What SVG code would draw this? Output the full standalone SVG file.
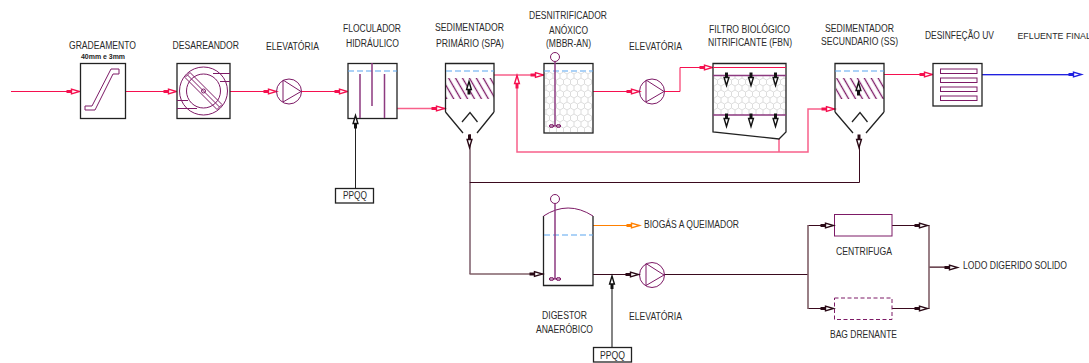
<svg xmlns="http://www.w3.org/2000/svg" width="1089" height="363" viewBox="0 0 1089 363">
<style>
text{font-family:"Liberation Sans",Arial,sans-serif;font-size:10px;fill:#2a2a2a}
.box{fill:#fff;stroke:#222;stroke-width:1.3}
.open{fill:none;stroke:#222;stroke-width:1.3}
.sym{fill:none;stroke:#7d1a66;stroke-width:1}
.sym2{fill:none;stroke:#8d3a80;stroke-width:1.5}
.lvl{fill:none;stroke:#5aa5f0;stroke-width:1.2;stroke-dasharray:6 3}
.red{fill:none;stroke:#f5104f;stroke-width:1}
.pink{fill:none;stroke:#f8608a;stroke-width:1.5}
.dk{fill:none;stroke:#3a0a1e;stroke-width:1}
.gr{fill:none;stroke:#806068;stroke-width:1.6}
.a-red{color:#f5104f}
.a-dk{color:#2a0a16}
.a-bk{color:#111}
.a-bl{color:#2020e0}
.a-or{color:#ff8000}
</style>
<defs>
<g id="ah"><path d="M-13.5,0H-8" fill="none" stroke="currentColor" stroke-width="3"/><path d="M-8.5,-2.4L-.5,0L-8.5,2.4Z" fill="#fff" stroke="currentColor" stroke-width="1.4"/></g>
<pattern id="hex" width="7" height="12" patternUnits="userSpaceOnUse"><path d="M3.5,0L7,2V6L3.5,8L0,6V2ZM3.5,8V12" fill="none" stroke="#ddd" stroke-width="1"/></pattern>
<pattern id="hatch" width="6" height="6" patternUnits="userSpaceOnUse" patternTransform="rotate(-30)"><path d="M1.5,0V6" stroke="#7d1a66" stroke-width="1.3" fill="none"/></pattern>
</defs>

<g id="connectors">
<path class="red" d="M11,91.5H80M125,91.5H177M230,91.5H276M301,91.5H348M593,91.5H640M664,91.5H680V67.5H786"/>
<path class="pink" d="M397,108.5H445M494,75H544M517,75V152H808V109H835M779,139V152"/>
<path class="red" d="M884,74.5H933"/>
<path stroke="#2020e0" fill="none" stroke-width="1" d="M982,74.5H1080"/>
<path stroke="#b0b0f0" fill="none" stroke-width="1" d="M982,75.5H1070"/>
<path class="dk" d="M470,134V182.5H859.5V135M470,182V274"/>
<path class="gr" d="M469.5,274H543"/>
<path stroke="#ff8000" fill="none" stroke-width="1" d="M593,225.5H640"/>
<path class="dk" d="M593,274.5H640M664,274.5H808M808,225.5H834M892,225.5H929M808,308.5H834M892,308.5H929M929,267.5H958"/>
<path class="gr" d="M808,225V309M929,225V309M929,267H945"/>
<path stroke="#222" fill="none" stroke-width="1" d="M355.5,118V188"/>
<path stroke="#666" fill="none" stroke-width="1.6" d="M612,277V347"/>
<g class="a-red">
<use href="#ah" transform="translate(80,91.5)"/>
<use href="#ah" transform="translate(177,91.5)"/>
<use href="#ah" transform="translate(277,91.5)"/>
<use href="#ah" transform="translate(348,91.5)"/>
<use href="#ah" transform="translate(445,108.5)"/>
<use href="#ah" transform="translate(544,75)"/>
<use href="#ah" transform="translate(640,91.5)"/>
<use href="#ah" transform="translate(713,67.5)"/>
<use href="#ah" transform="translate(835,109)"/>
<use href="#ah" transform="translate(933,74.5)"/>
<use href="#ah" transform="translate(517,75) rotate(-90)"/>
</g>
<g class="a-bl"><use href="#ah" transform="translate(1082,74.5)"/></g>
<g class="a-or"><use href="#ah" transform="translate(640,225.5)"/></g>
</g>

<g id="gradeamento">
<rect class="box" x="80.5" y="63.5" width="45" height="55"/>
<path class="sym" d="M85,106H92L111,69H119V74H113L95,110H85Z"/>
</g>
<g id="desareandor">
<rect class="box" x="177" y="63.5" width="53" height="55"/>
<circle class="sym" cx="203.5" cy="91" r="24"/>
<circle class="sym" cx="203.5" cy="91" r="17"/>
<path class="sym" d="M190,72.5L222,104.5L217,109.5L185,77.5ZM187.5,75L219.5,107M213,73.5H230M220,81.5H230M177,100.5H188M177,108.5H197"/>
<circle class="sym" cx="203.5" cy="91" r="2"/>
</g>
<g id="elevatoria-1">
<circle class="sym" cx="289" cy="91.5" r="12.5"/>
<path class="sym" d="M283,80L301,91.5L283,102Z"/>
</g>
<g id="floculador">
<rect class="box" x="348" y="63.5" width="49" height="55"/>
<path class="lvl" d="M348,71H397"/>
<path class="sym2" d="M360,74V118M372,63V106M384.5,74V118"/>
</g>
<g id="sedimentador-primario">
<rect x="446" y="78" width="48" height="21" fill="url(#hatch)"/>
<path class="open" d="M445.5,112V63.5H494V112M445.5,112L463,133M494,112L477,133M462,122L470,112.5L477.5,122"/>
<path class="lvl" d="M446,71H494"/>
</g>
<g id="desnitrificador">
<rect class="box" x="544" y="63.5" width="49" height="69.5"/>
<rect x="545" y="72" width="47" height="60" fill="url(#hex)"/>
<path class="lvl" d="M544,71H593"/>
<circle class="sym" cx="555" cy="57" r="4.5" stroke-width="1.2"/>
<path class="sym2" d="M555,62V126"/>
<path class="sym" d="M549,126H561"/>
<ellipse class="sym" cx="551.5" cy="126" rx="2.2" ry="1.5"/>
<ellipse class="sym" cx="558.5" cy="126" rx="2.2" ry="1.5"/>
</g>
<g id="elevatoria-2">
<circle class="sym" cx="652" cy="91.5" r="12.5"/>
<path class="sym" d="M646,80L664,91.5L646,102Z"/>
</g>
<g id="filtro-biologico">
<rect x="714" y="76" width="72" height="39" fill="url(#hex)"/>
<path class="open" d="M713,63.5H786V132L779,139L713,132Z"/>
<path class="red" d="M713,67.5H786"/>
<path class="sym2" d="M713,75.5H786M713,115H786"/>
</g>
<g id="sedimentador-secundario">
<rect x="836" y="78" width="48" height="21" fill="url(#hatch)"/>
<path class="open" d="M835,112V63.5H884V112M835,112L853,133M884,112L866,133M852,122L860,112.5L867.5,122"/>
<path class="lvl" d="M835,71H884"/>
</g>
<g id="desinfecao-uv">
<rect class="box" x="933" y="63.5" width="49" height="42.5"/>
<rect class="sym" x="940.5" y="69" width="36.5" height="4.5"/>
<rect class="sym" x="940.5" y="78" width="36.5" height="4.5"/>
<rect class="sym" x="940.5" y="87" width="36.5" height="4.5"/>
<rect class="sym" x="940.5" y="96" width="36.5" height="4.5"/>
</g>
<g id="digestor">
<path class="open" d="M543.5,216V285.5H593V216"/>
<path class="sym" d="M543.5,216Q568,200 593,216"/>
<path class="lvl" d="M544,235H593"/>
<circle class="sym" cx="555" cy="199" r="4.5" stroke-width="1.2"/>
<path class="sym2" d="M555,204V279"/>
<path class="sym" d="M549,279H561"/>
<ellipse class="sym" cx="551.5" cy="279" rx="2.2" ry="1.5"/>
<ellipse class="sym" cx="558.5" cy="279" rx="2.2" ry="1.5"/>
</g>
<g id="elevatoria-3">
<circle class="sym" cx="652" cy="275" r="12.5"/>
<path class="sym" d="M646,263.5L664,275L646,285.5Z"/>
</g>
<g id="centrifuga"><rect class="sym" x="834.5" y="214.5" width="57.5" height="21.5"/></g>
<g id="bag-drenante"><rect class="sym" x="834.5" y="298" width="57.5" height="21.5" stroke-dasharray="4 2.5"/></g>
<g id="ppqq-1"><rect class="box" x="335.5" y="188.5" width="38" height="14.5"/></g>
<g id="ppqq-2"><rect class="box" x="593.5" y="347.5" width="38" height="14.5"/></g>

<g id="connector-arrows" class="a-bk">
<use href="#ah" transform="translate(355.5,115) rotate(-90)"/>
<use href="#ah" transform="translate(469,81) rotate(-90)"/>
<use href="#ah" transform="translate(858.5,82) rotate(-90)"/>
<use href="#ah" transform="translate(726.5,86) rotate(90)"/>
<use href="#ah" transform="translate(751,86) rotate(90)"/>
<use href="#ah" transform="translate(775.5,86) rotate(90)"/>
<use href="#ah" transform="translate(726.5,127) rotate(90)"/>
<use href="#ah" transform="translate(751,127) rotate(90)"/>
<use href="#ah" transform="translate(775.5,127) rotate(90)"/>
<use href="#ah" transform="translate(612,275.5) rotate(-90)"/>
<g class="a-dk">
<use href="#ah" transform="translate(469.5,148) rotate(90)"/>
<use href="#ah" transform="translate(859,148) rotate(90)"/>
<use href="#ah" transform="translate(543,274)"/>
<use href="#ah" transform="translate(639,274.5)"/>
<use href="#ah" transform="translate(834,225.5)"/>
<use href="#ah" transform="translate(834,308.5)"/>
<use href="#ah" transform="translate(928,225.5)"/>
<use href="#ah" transform="translate(928,308.5)"/>
<use href="#ah" transform="translate(958,267.5)"/>
</g>
</g>

<g id="labels">
<text x="69" y="49" textLength="67" lengthAdjust="spacingAndGlyphs">GRADEAMENTO</text>
<text x="81" y="59" textLength="44" lengthAdjust="spacingAndGlyphs" style="font-size:8px;font-weight:bold;fill:#222">40mm e 3mm</text>
<text x="172.5" y="49" textLength="66.5" lengthAdjust="spacingAndGlyphs">DESAREANDOR</text>
<text x="266" y="50" textLength="53" lengthAdjust="spacingAndGlyphs">ELEVATÓRIA</text>
<text x="343" y="32" textLength="58" lengthAdjust="spacingAndGlyphs">FLOCULADOR</text>
<text x="346" y="47" textLength="53" lengthAdjust="spacingAndGlyphs">HIDRÁULICO</text>
<text x="435" y="31" textLength="69" lengthAdjust="spacingAndGlyphs">SEDIMENTADOR</text>
<text x="436" y="47" textLength="68" lengthAdjust="spacingAndGlyphs">PRIMÁRIO (SPA)</text>
<text x="529" y="19" textLength="78" lengthAdjust="spacingAndGlyphs">DESNITRIFICADOR</text>
<text x="549" y="34" textLength="39" lengthAdjust="spacingAndGlyphs">ANÓXICO</text>
<text x="546" y="47" textLength="45" lengthAdjust="spacingAndGlyphs">(MBBR-AN)</text>
<text x="629" y="50" textLength="53" lengthAdjust="spacingAndGlyphs">ELEVATÓRIA</text>
<text x="343" y="199" textLength="24" lengthAdjust="spacingAndGlyphs">PPQQ</text>
<text x="709" y="33" textLength="81" lengthAdjust="spacingAndGlyphs">FILTRO BIOLÓGICO</text>
<text x="708" y="46" textLength="84" lengthAdjust="spacingAndGlyphs">NITRIFICANTE (FBN)</text>
<text x="825" y="32" textLength="69" lengthAdjust="spacingAndGlyphs">SEDIMENTADOR</text>
<text x="821" y="45" textLength="77" lengthAdjust="spacingAndGlyphs">SECUNDARIO (SS)</text>
<text x="925" y="39" textLength="69" lengthAdjust="spacingAndGlyphs">DESINFEÇÃO UV</text>
<text x="1017.5" y="39" style="font-size:8.8px">EFLUENTE FINAL</text>
<text x="644" y="228" textLength="95" lengthAdjust="spacingAndGlyphs">BIOGÁS A QUEIMADOR</text>
<text x="542" y="319" textLength="45" lengthAdjust="spacingAndGlyphs">DIGESTOR</text>
<text x="536" y="333" textLength="57" lengthAdjust="spacingAndGlyphs">ANAERÓBICO</text>
<text x="629" y="320" textLength="53" lengthAdjust="spacingAndGlyphs">ELEVATÓRIA</text>
<text x="600" y="359" textLength="25" lengthAdjust="spacingAndGlyphs">PPQQ</text>
<text x="836" y="255" textLength="56" lengthAdjust="spacingAndGlyphs">CENTRIFUGA</text>
<text x="830" y="338" textLength="67" lengthAdjust="spacingAndGlyphs">BAG DRENANTE</text>
<text x="963" y="269" textLength="104" lengthAdjust="spacingAndGlyphs">LODO DIGERIDO SOLIDO</text>
</g>
</svg>
